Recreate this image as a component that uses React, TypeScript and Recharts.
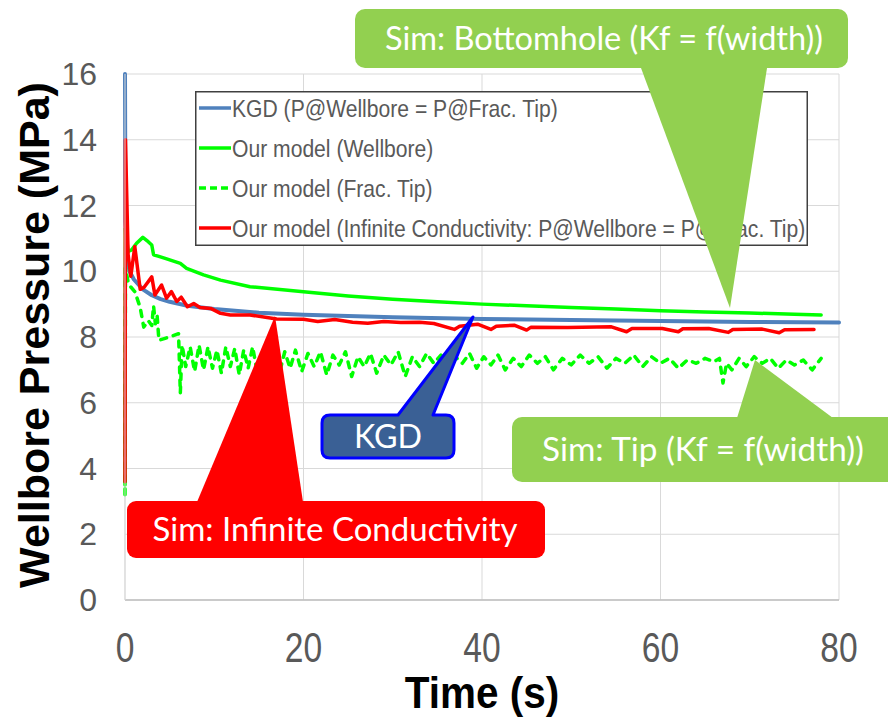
import React from "react";
import { LineChart, Line, XAxis, YAxis, CartesianGrid, Legend, Label } from "recharts";

// [time (s), pressure (MPa)]
const kgd: [number, number][] = [
  [0, 16], [0.05, 11.5], [0.2, 10.5], [0.5, 10.0], [1, 9.75], [2, 9.45], [3, 9.27],
  [4, 9.15], [5, 9.07], [7, 8.95], [10, 8.85], [15, 8.74], [20, 8.68], [25, 8.64],
  [30, 8.6], [40, 8.55], [50, 8.52], [60, 8.49], [70, 8.46], [80, 8.44],
];

const wellbore: [number, number][] = [
  [0, 3.5], [0.05, 11.3], [0.35, 10.6], [0.75, 10.65], [1.3, 10.85], [2.0, 11.03],
  [2.6, 10.9], [3.0, 10.8], [3.2, 10.5], [3.7, 10.46], [4.5, 10.39], [6.2, 10.24],
  [6.9, 10.09], [8.8, 9.89], [10.7, 9.73], [14, 9.53], [20, 9.38], [25, 9.25],
  [30, 9.15], [35, 9.07], [40, 9.0], [45, 8.95], [50, 8.9], [55, 8.85], [60, 8.8],
  [65, 8.76], [70, 8.73], [75, 8.69], [78, 8.67],
];

const fracTip: [number, number][] = [
  [0, 3.2], [0.05, 10.1], [0.4, 9.6], [1.1, 9.38], [1.7, 8.9], [2.1, 8.3], [2.6, 8.5],
  [3.0, 8.35], [3.2, 8.95], [3.4, 8.4], [3.6, 8.65], [3.8, 7.9], [4.4, 7.95], [5.2, 8.02],
  [6.0, 8.1], [6.2, 6.3], [6.4, 7.75], [6.8, 7.1], [7.3, 7.7], [7.8, 6.95], [8.3, 7.75],
  [8.8, 7.0], [9.3, 7.7], [9.8, 7.05], [10.3, 7.6], [10.8, 6.9], [11.3, 7.7], [11.8, 7.1],
  [12.3, 7.65], [12.8, 6.85], [13.3, 7.6], [13.8, 7.05], [14.3, 7.7], [14.9, 6.8],
  [15.5, 7.6], [16.1, 7.1], [16.7, 7.65], [17.3, 6.9], [17.9, 7.55], [18.5, 7.05],
  [19.1, 7.6], [19.8, 6.95], [20.5, 7.5], [21.2, 7.1], [21.9, 7.55], [22.6, 6.85],
  [23.3, 7.45], [24.0, 7.15], [24.7, 7.55], [25.4, 6.8], [26.1, 7.4], [26.8, 7.1],
  [27.5, 7.5], [28.2, 6.9], [29.0, 7.45], [29.8, 7.15], [30.6, 7.55], [31.4, 6.8],
  [32.2, 7.4], [33.0, 7.1], [33.8, 7.5], [34.6, 7.2], [35.4, 7.45], [36.2, 6.9],
  [37.0, 7.4], [37.8, 7.2], [38.6, 7.5], [39.4, 7.05], [40.2, 7.4], [41.0, 7.15],
  [41.8, 7.45], [42.6, 7.0], [43.5, 7.35], [44.4, 7.1], [45.3, 7.45], [46.2, 7.2],
  [47.1, 7.4], [48.0, 7.0], [49.0, 7.35], [50.0, 7.15], [51.0, 7.45], [52.0, 7.2],
  [53.0, 7.4], [54.0, 7.05], [55.0, 7.35], [56.0, 7.2], [57.0, 7.45], [58.0, 7.1],
  [59.0, 7.4], [60.0, 7.2], [61.0, 7.35], [62.0, 7.05], [63.0, 7.3], [64.0, 7.2],
  [65.0, 7.35], [66.0, 7.25], [66.6, 7.35], [67.0, 6.6], [67.4, 7.2], [68.0, 7.0],
  [68.8, 7.35], [69.6, 7.1], [70.5, 7.4], [71.4, 7.2], [72.3, 7.35], [73.2, 7.05],
  [74.1, 7.3], [75.0, 7.15], [76.0, 7.3], [77.0, 7.0], [78.0, 7.35],
];

const infinite: [number, number][] = [
  [0, 3.6], [0.05, 14], [0.35, 10.5], [0.65, 9.85], [1.1, 10.75], [1.7, 9.45], [2.1, 9.5],
  [3.0, 9.83], [3.35, 9.28], [4.1, 9.58], [4.65, 9.18], [5.2, 9.38], [5.8, 9.08],
  [6.3, 9.21], [7.0, 8.92], [7.7, 9.02], [8.4, 8.9], [9.6, 8.87], [10.7, 8.72],
  [11.8, 8.67], [14, 8.67], [17, 8.55], [20, 8.54], [21.6, 8.47], [23.5, 8.53],
  [25.5, 8.45], [27.2, 8.42], [29, 8.47], [30.9, 8.44], [33, 8.45], [34.6, 8.41],
  [36.9, 8.23], [37.5, 8.33], [39.5, 8.39], [41.0, 8.23], [41.6, 8.33], [43.6, 8.36],
  [45, 8.21], [45.5, 8.3], [49.6, 8.29], [54.5, 8.31], [56.2, 8.16], [56.8, 8.26],
  [60.2, 8.26], [62, 8.16], [62.5, 8.25], [65.4, 8.26], [67.6, 8.14], [68.1, 8.23],
  [71.4, 8.24], [73.3, 8.13], [73.9, 8.22], [77.2, 8.23],
];

const timeTicks = [0, 20, 40, 60, 80];
const pressureTicks = [0, 2, 4, 6, 8, 10, 12, 14, 16];

const ARIAL = "'Liberation Sans', Arial, sans-serif";
const CALIBRI = "Lato, 'Open Sans', sans-serif";

const toPoints = (rows: [number, number][]) => rows.map(([t, p]) => ({ t, p }));

const series = [
  { name: "KGD (P@Wellbore = P@Frac. Tip)", data: kgd, color: "#4F81BD", width: 4, dash: undefined },
  { name: "Our model (Wellbore)", data: wellbore, color: "#00FF00", width: 3.5, dash: undefined },
  { name: "Our model (Frac. Tip)", data: fracTip, color: "#00FF00", width: 3.5, dash: "6 7" },
  {
    name: "Our model (Infinite Conductivity: P@Wellbore = P@Frac. Tip)",
    data: infinite,
    color: "#FF0000",
    width: 3.5,
    dash: undefined,
  },
];

function YTick({ x, y, payload }: any) {
  return (
    <text x={x} y={y} dy="0.35em" textAnchor="end" fontSize={32} fill="#595959" fontFamily={ARIAL}>
      {payload.value}
    </text>
  );
}

function XTick({ x, y, payload }: any) {
  return (
    <g transform={`translate(${x},${y + 62})`}>
      <text textAnchor="middle" transform="scale(0.8,1)" fontSize={42} fill="#595959" fontFamily={ARIAL}>
        {payload.value}
      </text>
    </g>
  );
}

function YTitle({ viewBox }: any) {
  const cx = viewBox.x + 34;
  const cy = viewBox.y + viewBox.height / 2 - 2;
  return (
    <text
      x={cx}
      y={cy}
      dy="0.36em"
      transform={`rotate(-90 ${cx} ${cy})`}
      textAnchor="middle"
      fontSize={43}
      fontWeight="bold"
      fill="#000"
      fontFamily={ARIAL}
    >
      Wellbore Pressure (MPa)
    </text>
  );
}

function XTitle({ viewBox }: any) {
  const cx = viewBox.x + viewBox.width / 2;
  return (
    <g transform={`translate(${cx},${viewBox.y + 108})`}>
      <text textAnchor="middle" transform="scale(0.92,1)" fontSize={44} fontWeight="bold" fill="#000" fontFamily={ARIAL}>
        Time (s)
      </text>
    </g>
  );
}

function LegendBox({ payload }: any) {
  const items = [...(payload ?? [])].sort(
    (a: any, b: any) =>
      series.findIndex((s) => s.name === a.value) - series.findIndex((s) => s.name === b.value)
  );
  return (
    <svg width={613} height={155} style={{ display: "block" }}>
      <rect x={0.75} y={0.75} width={611.5} height={153.5} fill="#fff" stroke="#404040" strokeWidth={1.5} />
      {items.map((entry: any, i: number) => {
        const cy = 17 + i * 40;
        const s = series.find((d) => d.name === entry.value);
        return (
          <g key={entry.value}>
            <line
              x1={4}
              x2={36}
              y1={cy}
              y2={cy}
              stroke={entry.color}
              strokeWidth={3.5}
              strokeDasharray={s?.dash ? "7 4" : undefined}
            />
            <g transform={`translate(37,${cy})`}>
              <text dy="0.36em" transform="scale(0.88,1)" fontSize={24} fill="#595959" fontFamily={ARIAL}>
                {entry.value}
              </text>
            </g>
          </g>
        );
      })}
    </svg>
  );
}

// callout shapes laid over the plot
function Callouts() {
  return (
    <svg width={888} height={721} style={{ position: "absolute", left: 0, top: 0, pointerEvents: "none" }}>
      {/* bottomhole */}
      <path d="M641,68 L767,68 L730,308 Z" fill="#92D050" />
      <rect x={355} y={9} width={493} height={59} rx={10} fill="#92D050" />
      <text x={604} y={50} textAnchor="middle" fontSize={32} fill="#fff" fontFamily={CALIBRI} textLength={438} lengthAdjust="spacingAndGlyphs">
        Sim: Bottomhole (Kf = f(width))
      </text>

      {/* tip */}
      <path d="M737,418 L833,418 L755,360 Z" fill="#92D050" />
      <rect x={512} y={417} width={400} height={65} rx={10} fill="#92D050" />
      <text x={703} y={461} textAnchor="middle" fontSize={32} fill="#fff" fontFamily={CALIBRI} textLength={322} lengthAdjust="spacingAndGlyphs">
        Sim: Tip (Kf = f(width))
      </text>

      {/* infinite conductivity */}
      <path d="M197,502 L303,502 L275,316 Z" fill="#FF0000" />
      <rect x={127} y={501} width={418} height={57} rx={9} fill="#FF0000" />
      <text x={335} y={541} textAnchor="middle" fontSize={32} fill="#fff" fontFamily={CALIBRI} textLength={365} lengthAdjust="spacingAndGlyphs">
        Sim: Infinite Conductivity
      </text>

      {/* KGD */}
      <path
        d="M330,415 L398,415 L473,317 L433,415 L446,415 Q454,415 454,423 L454,450 Q454,458 446,458 L330,458 Q322,458 322,450 L322,423 Q322,415 330,415 Z"
        fill="#3A6095"
        stroke="#0000FF"
        strokeWidth={3}
        strokeLinejoin="round"
      />
      <text x={388} y={448} textAnchor="middle" fontSize={32} fill="#fff" fontFamily={CALIBRI} textLength={68} lengthAdjust="spacingAndGlyphs">
        KGD
      </text>
    </svg>
  );
}

export default function App() {
  return (
    <div style={{ position: "absolute", left: 0, top: 0, width: 888, height: 721, background: "#fff" }}>
      <LineChart width={888} height={721} margin={{ top: 74, right: 49, bottom: 0, left: 0 }}>
        <CartesianGrid stroke="#D9D9D9" strokeWidth={1} />
        <XAxis
          dataKey="t"
          type="number"
          domain={[0, 80]}
          ticks={timeTicks}
          height={121}
          tickSize={0}
          tickMargin={0}
          tick={<XTick />}
          axisLine={{ stroke: "#BFBFBF", strokeWidth: 1.5 }}
          tickLine={false}
          allowDuplicatedCategory={false}
        >
          <Label content={XTitle} />
        </XAxis>
        <YAxis
          type="number"
          domain={[0, 16]}
          ticks={pressureTicks}
          width={125}
          tickSize={0}
          tickMargin={28}
          tick={<YTick />}
          axisLine={{ stroke: "#D9D9D9" }}
          tickLine={false}
        >
          <Label content={YTitle} />
        </YAxis>
        <Legend
          layout="horizontal"
          verticalAlign="middle"
          align="center"
          width={613}
          wrapperStyle={{ left: 195, top: 91, width: 613, height: 155 }}
          content={<LegendBox />}
        />
        {series.map((s) => (
          <Line
            key={s.name}
            name={s.name}
            data={toPoints(s.data)}
            dataKey="p"
            type="linear"
            stroke={s.color}
            strokeWidth={s.width}
            strokeDasharray={s.dash}
            strokeLinecap="round"
            strokeLinejoin="round"
            dot={false}
            activeDot={false}
            isAnimationActive={false}
          />
        ))}
      </LineChart>
      <Callouts />
    </div>
  );
}
